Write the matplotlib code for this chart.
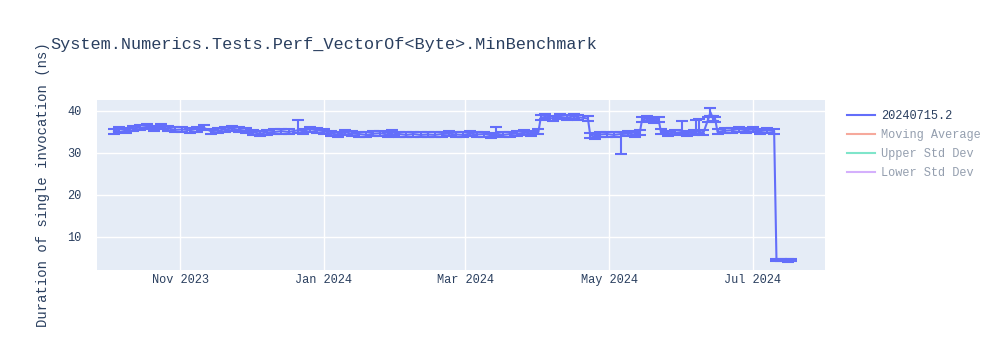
import matplotlib
matplotlib.use("Agg")
import matplotlib.pyplot as plt
import matplotlib.dates as mdates
from matplotlib.lines import Line2D
import pandas as pd

# run dates (every few days) and duration in ns
dates = [
    "2023-10-04", "2023-10-06", "2023-10-09", "2023-10-12", "2023-10-15", "2023-10-18", "2023-10-21", "2023-10-24", "2023-10-27", "2023-10-30",
    "2023-11-02", "2023-11-05", "2023-11-08", "2023-11-11", "2023-11-14", "2023-11-17", "2023-11-20", "2023-11-23", "2023-11-26", "2023-11-29",
    "2023-12-02", "2023-12-05", "2023-12-08", "2023-12-11", "2023-12-14", "2023-12-17", "2023-12-21", "2023-12-23", "2023-12-26", "2023-12-29",
    "2024-01-01", "2024-01-04", "2024-01-07", "2024-01-10", "2024-01-13", "2024-01-16", "2024-01-19", "2024-01-22", "2024-01-25", "2024-01-28",
    "2024-01-30", "2024-02-02", "2024-02-05", "2024-02-08", "2024-02-11", "2024-02-14", "2024-02-17", "2024-02-20", "2024-02-23", "2024-02-26",
    "2024-02-29", "2024-03-03", "2024-03-06", "2024-03-09", "2024-03-12", "2024-03-14", "2024-03-17", "2024-03-20", "2024-03-23", "2024-03-26",
    "2024-03-29", "2024-04-01", "2024-04-02", "2024-04-04", "2024-04-07", "2024-04-10", "2024-04-13", "2024-04-16", "2024-04-18", "2024-04-22",
    "2024-04-23", "2024-04-25", "2024-04-27", "2024-04-30", "2024-05-03", "2024-05-06", "2024-05-09", "2024-05-12", "2024-05-14", "2024-05-15",
    "2024-05-17", "2024-05-20", "2024-05-22", "2024-05-23", "2024-05-26", "2024-05-29", "2024-06-01", "2024-06-03", "2024-06-06", "2024-06-07",
    "2024-06-08", "2024-06-10", "2024-06-12", "2024-06-13", "2024-06-14", "2024-06-15", "2024-06-16", "2024-06-19", "2024-06-22", "2024-06-25",
    "2024-06-28", "2024-07-01", "2024-07-04", "2024-07-07", "2024-07-10", "2024-07-11", "2024-07-13", "2024-07-16", "2024-07-17",
]
durations = [
    35.0, 35.7, 35.4, 35.9, 36.0, 36.2, 35.9, 36.2, 35.8, 35.5,
    35.6, 35.4, 35.7, 36.0, 35.2, 35.3, 35.6, 35.8, 35.5, 35.3,
    34.9, 34.6, 34.9, 35.0, 35.2, 35.0, 35.4, 35.2, 35.7, 35.4,
    35.2, 34.6, 34.4, 34.9, 34.6, 34.5, 34.3, 34.6, 34.7, 34.4,
    34.9, 34.5, 34.3, 34.5, 34.3, 34.4, 34.3, 34.5, 34.6, 34.4,
    34.3, 34.6, 34.4, 34.5, 34.2, 34.6, 34.3, 34.5, 34.6, 34.8,
    34.7, 35.0, 38.4, 38.6, 38.2, 38.6, 38.4, 38.7, 38.5, 38.2,
    34.2, 33.9, 34.4, 34.5, 34.3, 34.5, 34.6, 34.4, 34.8, 38.0,
    38.2, 37.8, 37.9, 35.0, 34.7, 34.8, 35.0, 34.7, 34.9, 35.0,
    35.1, 34.8, 38.0, 39.7, 38.3, 38.0, 35.0, 35.3, 35.4, 35.7,
    35.4, 35.6, 35.2, 35.4, 35.2, 4.4, 4.5, 4.3, 4.4,
]
err_low = [
    0.6, 0.6, 0.6, 0.6, 0.6, 0.6, 0.6, 0.6, 0.6, 0.6,
    0.6, 0.6, 0.6, 0.6, 0.6, 0.6, 0.6, 0.6, 0.6, 0.6,
    0.6, 0.6, 0.6, 0.6, 0.6, 0.6, 0.6, 0.6, 0.6, 0.6,
    0.6, 0.6, 0.6, 0.6, 0.6, 0.6, 0.6, 0.6, 0.6, 0.6,
    0.6, 0.6, 0.6, 0.6, 0.6, 0.6, 0.6, 0.6, 0.6, 0.6,
    0.6, 0.6, 0.6, 0.6, 0.6, 0.6, 0.6, 0.6, 0.6, 0.6,
    0.6, 0.6, 0.6, 0.6, 0.6, 0.6, 0.6, 0.6, 0.6, 0.6,
    0.6, 0.6, 0.6, 0.6, 0.6, 4.7, 0.6, 0.6, 0.6, 0.6,
    0.6, 0.6, 0.6, 0.6, 0.6, 0.6, 0.6, 0.6, 0.6, 0.6,
    0.6, 0.6, 0.6, 1.0, 0.6, 0.6, 0.6, 0.6, 0.6, 0.6,
    0.6, 0.6, 0.6, 0.6, 0.6, 0.3, 0.3, 0.3, 0.3,
]
err_high = [
    0.6, 0.6, 0.6, 0.6, 0.6, 0.6, 0.6, 0.6, 0.6, 0.6,
    0.6, 0.6, 0.6, 0.6, 0.6, 0.6, 0.6, 0.6, 0.6, 0.6,
    0.6, 0.6, 0.6, 0.6, 0.6, 0.6, 2.4, 0.6, 0.6, 0.6,
    0.6, 0.6, 0.6, 0.6, 0.6, 0.6, 0.6, 0.6, 0.6, 0.6,
    0.6, 0.6, 0.6, 0.6, 0.6, 0.6, 0.6, 0.6, 0.6, 0.6,
    0.6, 0.6, 0.6, 0.6, 0.6, 1.6, 0.6, 0.6, 0.6, 0.6,
    0.6, 0.6, 0.6, 0.6, 0.6, 0.6, 0.6, 0.6, 0.6, 0.6,
    0.6, 0.6, 0.6, 0.6, 0.6, 0.6, 0.6, 0.6, 0.6, 0.6,
    0.6, 0.6, 0.6, 0.6, 0.6, 0.6, 2.6, 0.6, 0.6, 2.8,
    3.0, 0.6, 0.6, 1.0, 0.6, 0.6, 0.6, 0.6, 0.6, 0.6,
    0.6, 0.6, 0.6, 0.6, 0.6, 0.3, 0.3, 0.3, 0.3,
]

title = "System.Numerics.Tests.Perf_VectorOf<Byte>.MinBenchmark"
y_title = "Duration of single invocation (ns)"
series_names = ["20240715.2", "Moving Average", "Upper Std Dev", "Lower Std Dev"]
series_colors = ["#636efa", "#EF553B", "#00cc96", "#ab63fa"]
series_visible = [True, False, False, False]

x_ticks = ["2023-11-01", "2024-01-01", "2024-03-01", "2024-05-01", "2024-07-01"]
y_ticks = [10, 20, 30, 40]

text_color = "#2a3f5f"
mono = "Liberation Mono"

x = pd.to_datetime(dates)

fig = plt.figure(figsize=(10, 3.5), dpi=100)
ax = fig.add_axes([0.097, 0.229, 0.728, 0.485])
ax.set_facecolor("#E5ECF6")
for s in ax.spines.values():
    s.set_visible(False)

ax.errorbar(x, durations, yerr=[err_low, err_high], color=series_colors[0],
            lw=1.5, elinewidth=1.5, capsize=4, capthick=1.5, zorder=3)

ax.set_xlim(pd.Timestamp("2023-09-26 18:00"), pd.Timestamp("2024-07-31 14:00"))
ax.set_ylim(2.1, 42.6)

ax.set_xticks(pd.to_datetime(x_ticks))
ax.xaxis.set_major_formatter(mdates.DateFormatter("%b %Y"))
ax.set_yticks(y_ticks)
ax.grid(True, color="white", lw=1, zorder=0)
ax.set_axisbelow(True)
ax.tick_params(axis="both", length=0, labelsize=8.6, labelcolor=text_color)
ax.tick_params(axis="x", pad=3)
ax.tick_params(axis="y", pad=11)
for lab in ax.get_xticklabels() + ax.get_yticklabels():
    lab.set_fontfamily(mono)

ax.set_ylabel(y_title, fontfamily=mono, fontsize=10, color=text_color)
ax.yaxis.set_label_coords(-0.065, 0.5)

fig.text(0.05, 1 - 45 / 350, title, fontfamily=mono, fontsize=12.2,
         color=text_color, va="center", ha="left")

handles = []
for name, col, vis in zip(series_names, series_colors, series_visible):
    handles.append(Line2D([], [], color=col, lw=1.5, alpha=1.0 if vis else 0.5))
leg = ax.legend(handles, series_names, loc="upper left", bbox_to_anchor=(0.842, 0.7),
                bbox_transform=fig.transFigure, frameon=False, handlelength=2.4,
                handletextpad=0.5, labelspacing=0.6, borderaxespad=0,
                prop={"family": mono, "size": 8.6})
for txt, vis in zip(leg.get_texts(), series_visible):
    txt.set_color(text_color)
    txt.set_alpha(1.0 if vis else 0.5)

fig.savefig("out.png", dpi=100)
